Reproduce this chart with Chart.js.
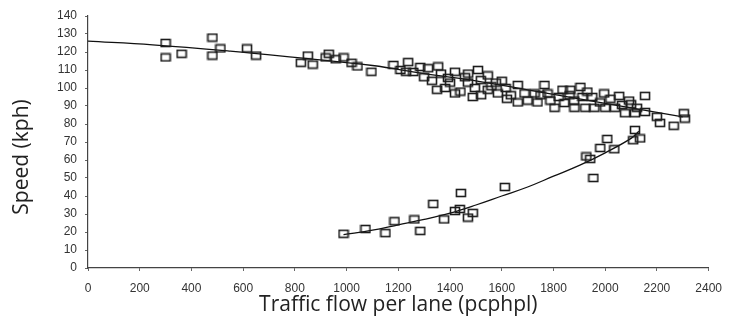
<!DOCTYPE html>
<html>
<head>
<meta charset="utf-8">
<script src="https://cdn.jsdelivr.net/npm/chart.js@4"></script>
<style>
  html, body { margin: 0; padding: 0; background: #fff; }
  #wrap { width: 732px; height: 331px; }
</style>
</head>
<body>
<div id="wrap"><canvas id="speedFlow" width="732" height="331"></canvas></div>
<script>
// observed points, uncongested branch (flow pcphpl, speed kph)
const freeFlow = [300, 300, 362, 481, 481, 512, 615, 650,
  823, 850, 869, 919, 931, 958, 988, 1019, 1042, 1096,
  1181, 1208, 1230, 1238, 1258, 1285, 1300, 1315, 1330, 1350, 1354, 1365, 1381, 1392, 1400,
  1419, 1419, 1440, 1458, 1469, 1470, 1488, 1496, 1508, 1519, 1520, 1546, 1546, 1560, 1577,
  1585, 1600, 1615, 1620, 1635, 1662, 1662, 1688, 1700, 1727, 1738, 1750, 1765, 1777, 1788,
  1804, 1820, 1835, 1842, 1862, 1865, 1880, 1881, 1904, 1912, 1923, 1931, 1950, 1958, 1980,
  1996, 2000, 2020, 2038, 2054, 2065, 2077, 2092, 2100, 2115, 2123, 2154, 2154, 2200, 2212,
  2265, 2304, 2308];
const freeSpeed = [125, 117, 119, 128, 118, 122, 122, 118,
  114, 118, 113, 117, 119, 116, 117, 114, 112, 109,
  112.8, 110, 109, 114.4, 108.9, 111.7, 106, 111, 104, 99, 112, 108, 100, 105.6, 103,
  109, 97, 98, 106, 103, 108, 95, 100, 110, 104.4, 96, 107, 99, 101, 103,
  97, 104, 100, 94, 96, 101.7, 92, 97, 93, 97, 92, 96, 101.7, 97, 93,
  89, 95, 99, 91.7, 96, 99, 93, 89, 100.6, 95, 89, 98, 95, 89, 92,
  97, 89, 94, 89, 95.6, 90.6, 86, 93, 91, 86, 89, 95.6, 86.7, 84, 80.6,
  79, 86, 83];

// observed points, congested branch
const jamFlow = [988, 1073, 1150, 1185, 1262, 1285, 1335, 1377, 1419, 1438, 1442, 1469, 1488,
  1612, 1927, 1942, 1954, 1981, 2008, 2035, 2108, 2115, 2135];
const jamSpeed = [19, 21.7, 19.4, 26, 27, 20.6, 35.6, 27, 31.7, 32.8, 41.7, 28, 30.6,
  45, 62, 60.6, 50, 66.7, 71.7, 66, 71, 76.7, 72];

// fitted curves
const upperFitFlow = [0, 250, 550, 800, 1100, 1300, 1500, 1700, 1900, 2100, 2300];
const upperFitSpeed = [126, 124, 120.5, 117, 112.5, 108, 104, 99, 94, 89, 84];
const lowerFitFlow = [988, 1100, 1200, 1300, 1400, 1500, 1600, 1700, 1800, 1900, 2000, 2100, 2130];
const lowerFitSpeed = [18.5, 21, 24, 27, 30.5, 35, 40, 45, 51, 57, 64, 72, 76];

const flowTicks = [0, 200, 400, 600, 800, 1000, 1200, 1400, 1600, 1800, 2000, 2200, 2400];
const speedTicks = [0, 10, 20, 30, 40, 50, 60, 70, 80, 90, 100, 110, 120, 130, 140];

const pairs = (xs, ys) => xs.map((x, i) => ({ x: x, y: ys[i] }));

// hollow square marker
const box = document.createElement('canvas');
box.width = 12;
box.height = 10;
const g = box.getContext('2d');
g.strokeStyle = '#1c1c1c';
g.lineWidth = 1.6;
g.strokeRect(1.5, 1.5, 9, 7);

const yTitle = {
  id: 'yTitle',
  afterDraw(chart) {
    const c = chart.ctx;
    c.save();
    c.translate(22, 157);
    c.rotate(-Math.PI / 2);
    c.font = '21px "Open Sans"';
    c.fillStyle = '#222';
    c.textAlign = 'center';
    c.textBaseline = 'middle';
    c.fillText('Speed (kph)', 0, 0);
    c.restore();
  }
};

const tickFont = { family: '"Liberation Sans", Arial, sans-serif', size: 12 };

new Chart(document.getElementById('speedFlow'), {
  type: 'scatter',
  data: {
    datasets: [
      {
        data: pairs(freeFlow, freeSpeed),
        pointStyle: box,
        pointRadius: 5
      },
      {
        data: pairs(jamFlow, jamSpeed),
        pointStyle: box,
        pointRadius: 5
      },
      {
        type: 'line',
        data: pairs(upperFitFlow, upperFitSpeed),
        borderColor: '#111',
        borderWidth: 1.3,
        pointRadius: 0,
        tension: 0.4,
        fill: false
      },
      {
        type: 'line',
        data: pairs(lowerFitFlow, lowerFitSpeed),
        borderColor: '#111',
        borderWidth: 1.3,
        pointRadius: 0,
        tension: 0.4,
        fill: false
      }
    ]
  },
  options: {
    responsive: false,
    animation: false,
    layout: { padding: { top: 16, right: 19, bottom: 0, left: 0 } },
    plugins: {
      legend: { display: false },
      tooltip: { enabled: false }
    },
    scales: {
      x: {
        type: 'linear',
        min: 0,
        max: 2400,
        afterBuildTicks: (axis) => { axis.ticks = flowTicks.map(v => ({ value: v })); },
        afterFit: (axis) => { axis.height = 63; },
        grid: { drawOnChartArea: false, drawTicks: true, tickLength: 3, tickColor: '#666' },
        border: { color: '#444', width: 1.2 },
        ticks: {
          autoSkip: false,
          maxRotation: 0,
          padding: 10,
          color: '#333',
          font: tickFont,
          callback: (v) => String(v)
        },
        title: {
          display: true,
          text: 'Traffic flow per lane (pcphpl)',
          color: '#222',
          font: { family: '"Open Sans"', size: 21 },
          padding: { top: 0, bottom: 13 }
        }
      },
      y: {
        type: 'linear',
        min: 0,
        max: 140,
        afterBuildTicks: (axis) => { axis.ticks = speedTicks.map(v => ({ value: v })); },
        afterFit: (axis) => { axis.width = 88; },
        grid: { drawOnChartArea: false, drawTicks: true, tickLength: 3, tickColor: '#666' },
        border: { color: '#444', width: 1.2 },
        ticks: { autoSkip: false, padding: 8, color: '#333', font: tickFont, callback: (v) => String(v) }
      }
    }
  },
  plugins: [yTitle]
});
</script>
</body>
</html>
